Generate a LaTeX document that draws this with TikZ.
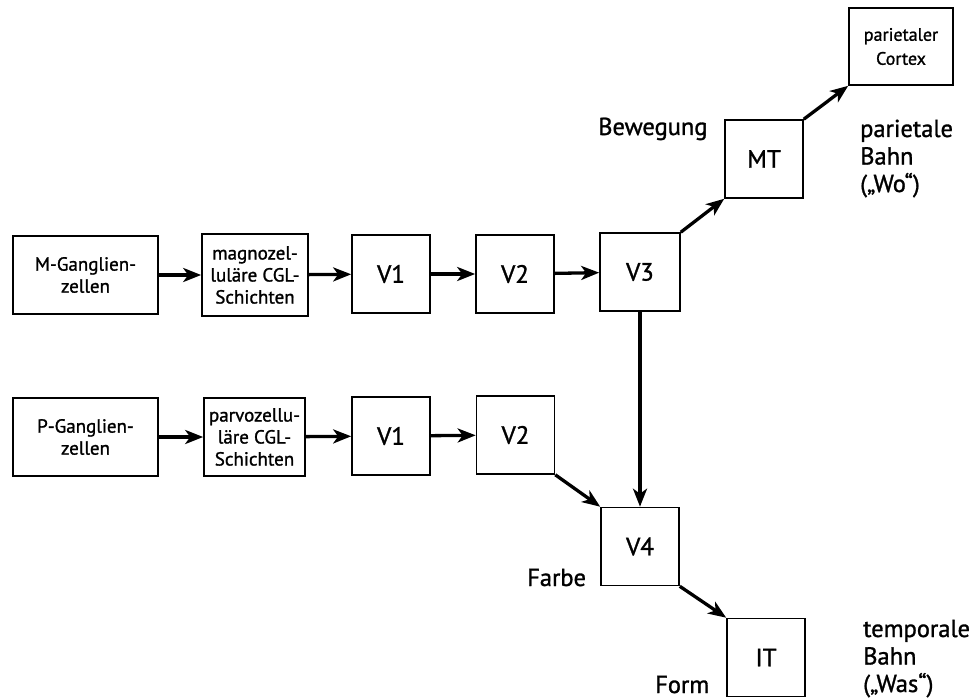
\documentclass[tikz,border=0pt]{standalone}
\usepackage{fontspec}
\setmainfont[FakeBold=1.2]{PT Sans}
\usetikzlibrary{arrows.meta}

\begin{document}
\begin{tikzpicture}[x=1pt,y=-1pt,
  box/.style={draw, line width=1.6pt, minimum width=78pt, minimum height=78pt, inner sep=0pt, font=\fontsize{25}{30}\selectfont},
  txtbox/.style={draw, line width=1.6pt, minimum height=78pt, inner sep=0pt, align=center, font=\fontsize{19}{22}\selectfont},
  lbl/.style={anchor=base west, align=left, inner sep=0pt, font=\fontsize{24.5}{27.5}\selectfont},
  arr/.style={line width=3.3pt, -{Stealth[length=18pt,width=14pt,inset=5pt]}}]
\useasboundingbox (0,0) rectangle (975,698);

% magnozellulaere Bahn
\node[txtbox, minimum width=145pt] (mgang) at (85.5,275) {M-Ganglien-\\zellen};
\node[txtbox, minimum width=106pt, minimum height=82pt] (magno) at (255,275) {magnozel-\\luläre CGL-\\Schichten};
\node[box] (vonea) at (391,274) {V1};
\node[box] (vtwoa) at (515,274) {V2};
\node[box, minimum width=80pt] (vthree) at (640,272) {V3};
\node[box] (mt) at (764,159) {MT};
\node[txtbox, minimum width=104pt, minimum height=77pt, font=\fontsize{18}{24}\selectfont] (pc) at (901,46.5) {parietaler\\Cortex};

% parvozellulaere Bahn
\node[txtbox, minimum width=145pt] (pgang) at (85.5,437) {P-Ganglien-\\zellen};
\node[txtbox, minimum width=101pt] (parvo) at (254.5,437) {parvozellu-\\läre CGL-\\Schichten};
\node[box] (voneb) at (391,436) {V1};
\node[box] (vtwob) at (515.5,435) {V2};
\node[box] (vfour) at (640,546.5) {V4};
\node[box] (it) at (766,657.5) {IT};

% Pfeile
\draw[arr] (mgang) -- (magno);
\draw[arr] (magno) -- (vonea);
\draw[arr] (vonea) -- (vtwoa);
\draw[arr] (vtwoa) -- (vthree);
\draw[arr] (vthree.north east) -- (mt.south west);
\draw[arr] (mt.north east) -- (pc.south west);
\draw[arr] (vthree) -- (vfour);
\draw[arr] (pgang) -- (parvo);
\draw[arr] (parvo) -- (voneb);
\draw[arr] (voneb) -- (vtwob);
\draw[arr] (vtwob.south east) -- (vfour.north west);
\draw[arr] (vfour.south east) -- (it.north west);

% Beschriftungen (Anker: Grundlinie der letzten Zeile)
\node[lbl] (bew) at (598,135) {Bewegung};
\node[lbl] (pbahn) at (860,192) {parietale\\Bahn\\(„Wo“)};
\node[lbl] (farbe) at (527,586) {Farbe};
\node[lbl] (form) at (655,693) {Form};
\node[lbl] (tbahn) at (863,692) {temporale\\Bahn\\(„Was“)};

\end{tikzpicture}
\end{document}
